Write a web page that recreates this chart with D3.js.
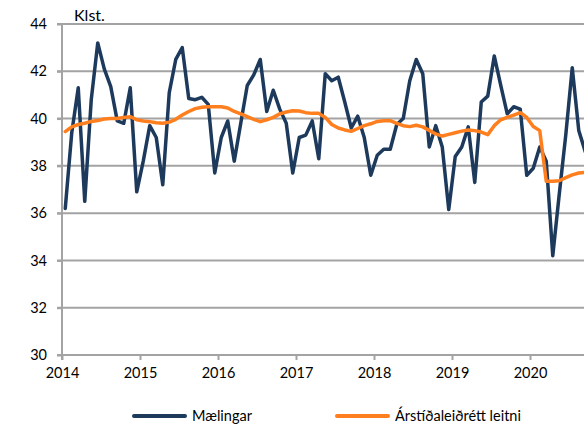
<!DOCTYPE html>
<html lang="is">
<head>
  <meta charset="UTF-8">
  <title>Vinnustundir</title>
  <script src="https://d3js.org/d3.v7.min.js"></script>
  <style>
    body { margin: 0; background: #fff; font-family: Lato, "Noto Sans", sans-serif; }
    svg { display: block; overflow: hidden; }
    .tick text { font-family: Lato, "Noto Sans", sans-serif; font-size: 14.5px; fill: #000; }
  </style>
</head>
<body>
  <div id="chart"></div>
  <script>
    // Size of the page / plot
    const width = 584, height = 425;
    const margin = {top: 24, left: 62, bottom: 70};

    // Data: monthly values from Jan 2014
    const startYear = 2014;
    const yearTicks = [2014, 2015, 2016, 2017, 2018, 2019, 2020];
    const yTicks = [30, 32, 34, 36, 38, 40, 42, 44];

    const maelingar = [
      36.2, 39.4, 41.3, 36.5, 40.8, 43.2, 42.1, 41.35, 39.9, 39.8, 41.3, 36.9,
      38.2, 39.7, 39.2, 37.2, 41.1, 42.5, 43.0, 40.85, 40.8, 40.9, 40.6, 37.7,
      39.2, 39.9, 38.2, 39.8, 41.4, 41.85, 42.5, 40.3, 41.2, 40.4, 39.8, 37.7,
      39.2, 39.3, 39.9, 38.3, 41.9, 41.6, 41.75, 40.7, 39.6, 40.1, 39.2, 37.6,
      38.45, 38.7, 38.7, 39.75, 40.0, 41.6, 42.5, 41.9, 38.8, 39.7, 38.8, 36.15,
      38.4, 38.8, 39.65, 37.3, 40.7, 40.95, 42.65, 41.4, 40.2, 40.5, 40.4, 37.6,
      37.9, 38.8, 38.2, 34.2, 36.8, 39.3, 42.15, 39.5, 38.6
    ];

    const leitni = [
      39.45, 39.65, 39.75, 39.8, 39.88, 39.92, 39.98, 40.0, 40.0, 40.05, 40.08, 39.95,
      39.9, 39.87, 39.82, 39.8, 39.85, 39.97, 40.15, 40.3, 40.42, 40.48, 40.5, 40.5,
      40.5, 40.45, 40.3, 40.2, 40.08, 39.97, 39.87, 39.95, 40.05, 40.2, 40.28, 40.33,
      40.32, 40.25, 40.22, 40.22, 40.05, 39.75, 39.6, 39.52, 39.46, 39.58, 39.7, 39.78,
      39.88, 39.91, 39.91, 39.8, 39.7, 39.66, 39.72, 39.65, 39.5, 39.35, 39.26, 39.33,
      39.4, 39.47, 39.52, 39.49, 39.43, 39.32, 39.7, 39.95, 40.05, 40.15, 40.25, 40.05,
      39.66, 39.49, 37.35, 37.35, 37.37, 37.5, 37.62, 37.7, 37.72
    ];

    const colors = {blue: '#1d3a5c', orange: '#ff7f1e', grid: '#a3a3a3'};

    // Scales (78px per year, the plot runs past the right edge)
    const x = d3.scaleLinear().domain([2014, 2021]).range([margin.left, margin.left + 7 * 78]);
    const y = d3.scaleLinear().domain([30, 44]).range([height - margin.bottom, margin.top]);

    // month i sits mid-month
    const monthPos = i => startYear + (i + 0.5) / 12;

    const svg = d3.select('#chart').append('svg')
      .attr('width', width)
      .attr('height', height);

    // Gridlines
    svg.append('g')
      .selectAll('line')
      .data(yTicks.slice(1))
      .join('line')
      .attr('x1', margin.left - 5).attr('x2', width)
      .attr('y1', d => y(d)).attr('y2', d => y(d))
      .attr('stroke', colors.grid)
      .attr('stroke-width', 2);

    // Y axis
    const yAxis = svg.append('g')
      .attr('transform', `translate(${margin.left},0)`)
      .call(d3.axisLeft(y).tickValues(yTicks).tickSize(5).tickPadding(10));
    yAxis.select('.domain').remove();
    yAxis.selectAll('.tick line').attr('stroke', colors.grid).attr('stroke-width', 2);
    yAxis.append('line')
      .attr('x1', 0).attr('x2', 0)
      .attr('y1', margin.top).attr('y2', y(30) + 5)
      .attr('stroke', colors.grid).attr('stroke-width', 2);

    // X axis
    const xAxis = svg.append('g')
      .attr('transform', `translate(0,${y(30)})`)
      .call(d3.axisBottom(x).tickValues(yearTicks).tickFormat(d3.format('d')).tickSize(5).tickPadding(8));
    xAxis.select('.domain').remove();
    xAxis.selectAll('.tick line').attr('stroke', colors.grid).attr('stroke-width', 2);
    xAxis.append('line')
      .attr('x1', margin.left - 5).attr('x2', width)
      .attr('y1', 0).attr('y2', 0)
      .attr('stroke', colors.grid).attr('stroke-width', 2);

    // Unit label
    svg.append('text')
      .attr('x', 74).attr('y', 21)
      .attr('font-size', 16)
      .text('Klst.');

    // Lines
    const line = d3.line()
      .x((d, i) => x(monthPos(i)))
      .y(d => y(d));

    svg.append('path')
      .datum(maelingar)
      .attr('fill', 'none')
      .attr('stroke', colors.blue)
      .attr('stroke-width', 3.5)
      .attr('stroke-linejoin', 'round')
      .attr('stroke-linecap', 'round')
      .attr('d', line);

    svg.append('path')
      .datum(leitni)
      .attr('fill', 'none')
      .attr('stroke', colors.orange)
      .attr('stroke-width', 3.5)
      .attr('stroke-linejoin', 'round')
      .attr('stroke-linecap', 'round')
      .attr('d', line);

    // Legend
    const legend = [
      {name: 'Mælingar', color: colors.blue, x: 134},
      {name: 'Árstíðaleiðrétt leitni', color: colors.orange, x: 337}
    ];
    const lg = svg.append('g').selectAll('g').data(legend).join('g')
      .attr('transform', d => `translate(${d.x},416)`);
    lg.append('line')
      .attr('x1', 0).attr('x2', 51)
      .attr('stroke', d => d.color)
      .attr('stroke-width', 4)
      .attr('stroke-linecap', 'round');
    lg.append('text')
      .attr('x', 58).attr('y', 5)
      .attr('font-size', 14.5)
      .text(d => d.name);
  </script>
</body>
</html>
